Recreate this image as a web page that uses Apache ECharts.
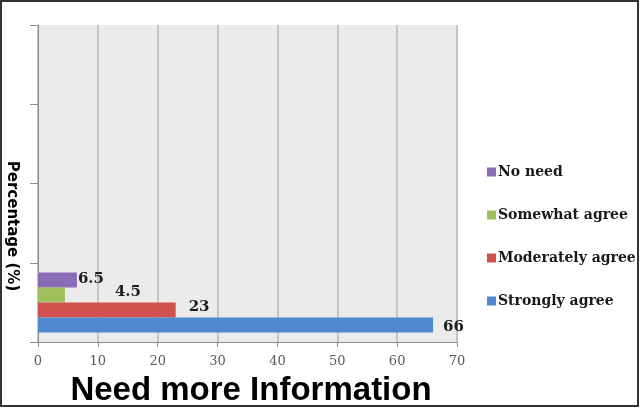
<!DOCTYPE html>
<html>
<head>
<meta charset="utf-8">
<script src="https://cdn.jsdelivr.net/npm/echarts@6/dist/echarts.min.js"></script>
<style>
html,body{margin:0;padding:0;background:#fff;}
#chart{width:640px;height:408px;}
</style>
</head>
<body>
<div id="chart"></div>
<script>
// Data
const categories = ['Need more Information', ' ', '  ', '   '];
const seriesNames = ['No need', 'Somewhat agree', 'Moderately agree', 'Strongly agree'];
const seriesValues = [6.5, 4.5, 23, 66];
const legendOrder = ['No need', 'Somewhat agree', 'Moderately agree', 'Strongly agree'];
const xTicks = [0, 10, 20, 30, 40, 50, 60, 70];
const xTitle = 'Need more Information';
const yTitle = 'Percentage (%)';

const colors = ['#8a6cb6', '#a0c05e', '#cf504d', '#5089cf'];
const labelOffsets = [[-1, -1], [48, -3], [11, -3], [8, 2]];

const chart = echarts.init(document.getElementById('chart'));
const series = seriesNames.map((name, i) => ({
  name: name,
  type: 'bar',
  data: [seriesValues[i]],
  barWidth: 15,
  barGap: '0%',
  itemStyle: { color: colors[i] },
  label: {
    show: true,
    position: 'right',
    distance: 2,
    offset: labelOffsets[i],
    fontFamily: 'DejaVu Serif',
    fontWeight: 'bold',
    fontSize: 15,
    color: '#1e1e1e'
  }
}));

chart.setOption({
  animation: false,
  backgroundColor: '#fff',
  grid: {
    left: 38, right: 183, top: 25, bottom: 66,
    outerBoundsMode: 'none',
    containLabel: false,
    show: true, backgroundColor: '#ebebeb', borderWidth: 0
  },
  legend: {
    orient: 'vertical',
    left: 482, top: 160,
    itemWidth: 9, itemHeight: 9, itemGap: 29,
    icon: 'rect',
    data: legendOrder,
    textStyle: { fontFamily: 'DejaVu Serif', fontWeight: 'bold', fontSize: 14, color: '#1a1a1a', padding: [0, 0, 0, -3] }
  },
  xAxis: {
    type: 'value',
    min: xTicks[0], max: xTicks[xTicks.length - 1], interval: 10,
    axisLine: { show: true, lineStyle: { color: '#8c8c8c', width: 1 } },
    axisTick: { show: true, length: 5, lineStyle: { color: '#8c8c8c' } },
    axisLabel: { fontFamily: 'DejaVu Serif', fontSize: 13, color: '#595959', margin: 13 },
    splitLine: { show: true, lineStyle: { color: '#c4c4c4', width: 2 } }
  },
  yAxis: {
    type: 'category',
    data: categories,
    axisLine: { show: true, lineStyle: { color: '#8c8c8c', width: 1 } },
    axisTick: { show: true, length: 8, lineStyle: { color: '#8c8c8c' } },
    axisLabel: { show: false },
    splitLine: { show: false }
  },
  graphic: [{
    type: 'rect',
    shape: { x: 1, y: 1, width: 637, height: 405 },
    style: { fill: 'none', stroke: '#333', lineWidth: 2 },
    silent: true
  }, {
    type: 'text',
    x: 251, y: 391,
    style: {
      text: xTitle, align: 'center', verticalAlign: 'middle',
      fontFamily: 'Liberation Sans', fontWeight: 'bold', fontSize: 33, fill: '#000'
    },
    silent: true
  }, {
    type: 'text',
    x: 12, y: 226,
    rotation: -Math.PI / 2,
    style: {
      text: yTitle, align: 'center', verticalAlign: 'middle',
      fontFamily: 'DejaVu Sans', fontWeight: 'bold', fontSize: 15, fill: '#000'
    },
    silent: true
  }],
  series: series
});
</script>
</body>
</html>
